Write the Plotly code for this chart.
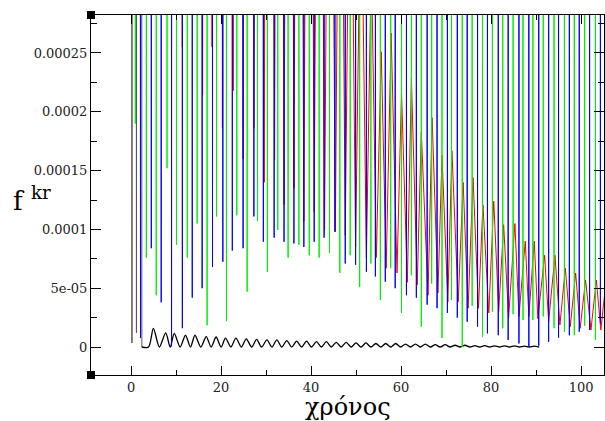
import plotly.graph_objects as go

# ---------------- data ----------------
# off-scale peak level for the spiky series (their maxima lie far above the view)
OFFSCALE = 0.02

# black series: initial off-scale dips, then small damped bumps near zero
black_t = [0.0, 0.2, 0.7, 1.2, 1.75, 2.4, 3.9, 4.96, 6.3, 7.7, 8.7, 9.6, 10.9, 12.1, 13.2, 14.2, 15.5,
           16.7, 17.8, 18.9, 20.0, 21.0, 22.2, 23.3, 24.5, 25.6, 26.8, 27.9, 29.0, 30.2, 31.3, 32.4,
           33.5, 34.6, 35.7, 36.8, 37.9, 39.0, 40.1, 41.2, 42.3, 43.4, 44.5, 45.6, 46.7, 47.8, 48.9,
           50.0, 51.1, 52.2, 53.3, 54.4, 55.5, 56.6, 57.7, 58.8, 59.9, 61.0, 62.1, 63.2, 64.3, 65.4,
           66.5, 67.6, 68.7, 69.8, 70.9, 72.0, 73.1, 74.2, 75.3, 76.4, 77.5, 78.6, 79.7, 80.8, 81.9,
           83.0, 84.1, 85.2, 86.3, 87.4, 88.5, 89.6, 90.7]
black_v = [0.02, 3.4e-6, 0.02, 1.2e-5, 0.02, 0.0, 0.0, 1.59e-5, 0.0, 1.2e-5, 0.0, 1.16e-5, 0.0, 1.0e-5, 0.0,
           1.0e-5, 0.0, 8.8e-6, 0.0, 8.5e-6, 0.0, 7.5e-6, 0.0, 7.5e-6, 0.0, 7.0e-6, 0.0, 6.5e-6, 0.0,
           6.0e-6, 0.0, 6.0e-6, 0.0, 5.5e-6, 0.0, 5.0e-6, 0.0, 5.0e-6, 0.0, 4.5e-6, 0.0, 4.5e-6, 0.0,
           4.0e-6, 0.0, 4.0e-6, 0.0, 3.5e-6, 0.0, 3.5e-6, 0.0, 3.0e-6, 0.0, 3.0e-6, 0.0, 3.0e-6, 0.0,
           2.5e-6, 0.0, 2.5e-6, 0.0, 2.5e-6, 0.0, 2.0e-6, 0.0, 2.0e-6, 0.0, 1.5e-6, 0.0, 1.5e-6, 0.0,
           1.2e-6, 0.0, 1.2e-6, 0.0, 1.0e-6, 0.0, 1.0e-6, 0.0, 1.0e-6, 0.0, 8e-7, 0.0, 8e-7, 0.0]

# red series: trough times/values and peak times/values
red_trough_t = [11.4, 13.6, 15.9, 18.0, 20.3, 22.7, 24.9, 27.3, 29.6, 31.9, 34.0, 36.2, 38.4, 40.7,
                43.0, 45.4, 47.6, 49.9, 52.3, 54.5, 56.7, 59.1, 61.4, 63.6, 66.0, 68.2, 70.4, 72.7,
                74.9, 77.2, 79.5, 81.7, 83.9, 86.2, 88.4, 90.4, 92.8, 95.3, 97.6, 99.8, 102.2, 104.4]
red_trough_v = [2.55e-4, 3.0e-4, 2.14e-4, 2.55e-4, 1.86e-4, 2.18e-4, 1.6e-4, 1.86e-4, 1.4e-4, 1.59e-4,
                1.21e-4, 1.35e-4, 1.07e-4, 1.15e-4, 1.0e-4, 9.8e-5, 9.5e-5, 8.5e-5, 7.6e-5, 7.6e-5,
                6.7e-5, 6.3e-5, 5.5e-5, 5.3e-5, 4.4e-5, 4.6e-5, 3.85e-5, 3.85e-5, 3.3e-5, 3.3e-5,
                2.9e-5, 3.0e-5, 2.5e-5, 2.6e-5, 2.6e-5, 2.4e-5, 2.15e-5, 1.87e-5, 1.73e-5, 1.59e-5,
                1.45e-5, 1.45e-5]
red_peak_t = [9.5, 12.5, 14.75, 16.95, 19.15, 21.5, 23.8, 26.1, 28.45, 30.75, 32.95, 35.1, 37.3, 39.55,
              41.85, 44.2, 46.5, 48.75, 51.1, 53.4, 55.6, 57.8, 60.1, 62.3, 64.5, 66.9, 69.1, 71.3,
              73.8, 76.0, 78.2, 80.6, 82.8, 85.3, 87.6, 89.6, 91.9, 94.2, 96.5, 98.8, 101.0, 103.4,
              105.3]
red_peak_v = [8e-3, 8e-3, 7e-3, 6e-3, 5e-3, 4e-3, 3.4e-3, 2.8e-3, 2.3e-3, 1.9e-3, 1.6e-3, 1.35e-3,
              1.15e-3, 1.0e-3, 8.8e-4, 7.6e-4, 6.4e-4, 5.2e-4, 4.2e-4, 3.3e-4, 2.51e-4, 2.67e-4,
              2.17e-4, 2.29e-4, 1.83e-4, 1.95e-4, 1.63e-4, 1.67e-4, 1.4e-4, 1.44e-4, 1.21e-4,
              1.24e-4, 1.04e-4, 1.05e-4, 9e-5, 9e-5, 7.8e-5, 7.8e-5, 6.7e-5, 6.3e-5, 5.7e-5,
              5.7e-5, 4.7e-5]

# green series: trough times/values (peaks off-scale)
green_trough_t = [0.96, 3.4, 5.6, 8.0, 10.1, 12.5, 14.7, 16.9, 19.0, 21.2, 23.5, 25.8, 28.1, 30.3,
                  32.6, 34.9, 37.3, 39.6, 41.8, 44.1, 46.4, 48.7, 50.8, 53.3, 55.4, 57.7, 60.1, 62.3,
                  64.5, 66.8, 69.1, 71.2, 73.6, 75.8, 78.1, 80.3, 82.6, 84.9, 87.1, 89.3, 91.6, 94.0,
                  96.3, 98.5, 100.8, 103.2]
green_trough_v = [1.9e-4, 7.6e-5, 4.4e-5, 1.52e-4, 8.7e-5, 7.6e-5, 1.05e-4, 1.85e-5, 1.11e-4, 2.2e-5,
                  1.12e-4, 4.7e-5, 1.07e-4, 6.4e-5, 9.95e-5, 7.6e-5, 8.7e-5, 7.8e-5, 7.6e-5, 8e-5,
                  6.3e-5, 7.8e-5, 5.1e-5, 7.1e-5, 4e-5, 6.7e-5, 2.9e-5, 6.1e-5, 1.73e-5, 5.4e-5,
                  7.7e-6, 4e-5, 0.0, 3.5e-5, 8.8e-6, 3e-5, 1.6e-5, 2.8e-5, 2.3e-5, 2.3e-5, 2.6e-5,
                  1.6e-5, 1.3e-5, 1e-5, 1.8e-5, 6e-6]

# blue series: trough times/values (peaks off-scale)
blue_trough_t = [2.1, 4.5, 6.7, 9.0, 11.4, 13.6, 15.8, 18.1, 20.4, 22.5, 24.9, 27.3, 29.4, 31.8, 34.0,
                 36.2, 38.4, 40.7, 42.9, 45.3, 47.6, 49.9, 52.3, 54.3, 56.5, 58.7, 61.2, 63.4, 65.8,
                 68.0, 70.3, 72.5, 74.7, 77.0, 79.2, 81.6, 83.8, 86.2, 88.4, 90.6, 92.8, 95.0, 97.4,
                 99.6, 101.9, 104.3]
blue_trough_v = [7.6e-6, 8.4e-5, 3.8e-5, 5e-7, 1.6e-5, 4.2e-5, 5e-5, 6.8e-5, 7.25e-5, 8.2e-5, 8.4e-5,
                 1.11e-4, 8.95e-5, 9.3e-5, 8.95e-5, 8.8e-5, 8.5e-5, 8.95e-5, 9.3e-5, 9.8e-5, 7.1e-5,
                 7e-5, 6.4e-5, 6e-5, 5.55e-5, 5e-5, 4.4e-5, 4.2e-5, 3.6e-5, 3.3e-5, 2.9e-5, 2.5e-5,
                 2.15e-5, 1.73e-5, 1.16e-5, 1e-5, 6e-6, 3e-6, 0.0, 1e-6, 4.5e-6, 8e-6, 1e-5, 1.3e-5,
                 1.45e-5, 2e-5]

x_tick_vals = [0, 20, 40, 60, 80, 100]
x_tick_text = ["0", "20", "40", "60", "80", "100"]
y_tick_vals = [0, 5e-5, 1e-4, 1.5e-4, 2e-4, 2.5e-4]
y_tick_text = ["0", "5e-05", "0.0001", "0.00015", "0.0002", "0.00025"]

SERIF = "DejaVu Serif"


# ---------------- helpers ----------------
def spiky(tt, tv, start_t=0.0, end_t=None):
    """Troughs joined through off-scale peaks placed between them."""
    xs, ys = [start_t], [OFFSCALE]
    for i, (t, v) in enumerate(zip(tt, tv)):
        xs.append(t)
        ys.append(v)
        if i + 1 < len(tt):
            xs.append(0.5 * (t + tt[i + 1]))
            ys.append(OFFSCALE)
    xs.append(tt[-1] + 1.1 if end_t is None else end_t)
    ys.append(OFFSCALE)
    return xs, ys


def merge(t1, v1, t2, v2):
    pts = sorted(list(zip(t1, v1)) + list(zip(t2, v2)))
    return [p[0] for p in pts], [p[1] for p in pts]


fig = go.Figure()

# initial off-scale part of the black curve (straight, thin), then the small bumps (smoothed)
fig.add_trace(go.Scatter(x=black_t[:6], y=black_v[:6], mode="lines",
                         line=dict(color="#555555", width=1), hoverinfo="skip"))
fig.add_trace(go.Scatter(x=black_t[5:], y=black_v[5:], mode="lines",
                         line=dict(color="#000000", width=1.3, shape="spline", smoothing=0.8),
                         hoverinfo="skip"))
rx, ry = merge(red_trough_t, red_trough_v, red_peak_t, red_peak_v)
fig.add_trace(go.Scatter(x=rx, y=ry, mode="lines",
                         line=dict(color="#ff0000", width=1), hoverinfo="skip"))
gx, gy = spiky(green_trough_t, green_trough_v)
fig.add_trace(go.Scatter(x=gx, y=gy, mode="lines",
                         line=dict(color="#00ee00", width=1), hoverinfo="skip"))
bx, by = spiky(blue_trough_t, blue_trough_v)
fig.add_trace(go.Scatter(x=bx, y=by, mode="lines",
                         line=dict(color="#0000ff", width=1), hoverinfo="skip"))

tickfont = dict(family=SERIF, size=13, color="#222222")

fig.update_layout(
    width=605, height=421,
    margin=dict(l=91, r=1, t=15, b=46),
    paper_bgcolor="white", plot_bgcolor="white",
    showlegend=False,
    font=dict(family=SERIF),
    xaxis=dict(range=[-8.9, 105.1], showgrid=False, zeroline=False,
               showline=True, linecolor="#000000", linewidth=1, mirror="ticks",
               ticks="inside", ticklen=9, tickwidth=1, tickcolor="#000000",
               tickmode="array", tickvals=x_tick_vals, ticktext=x_tick_text,
               tickfont=tickfont,
               minor=dict(tickmode="linear", tick0=0, dtick=10, ticks="inside",
                          ticklen=5, tickwidth=1, tickcolor="#000000")),
    yaxis=dict(range=[-2.38e-5, 2.823e-4], showgrid=False, zeroline=False,
               showline=True, linecolor="#000000", linewidth=1, mirror="ticks",
               ticks="inside", ticklen=10, tickwidth=1, tickcolor="#000000",
               tickmode="array", tickvals=y_tick_vals, ticktext=y_tick_text,
               tickfont=tickfont,
               minor=dict(tickmode="linear", tick0=0, dtick=2.5e-5, ticks="inside",
                          ticklen=6, tickwidth=1, tickcolor="#000000")),
    annotations=[
        dict(text="f <sup>kr</sup>", xref="paper", yref="paper", x=0, y=0.49,
             xanchor="right", yanchor="middle", xshift=-38, showarrow=False,
             font=dict(family=SERIF, size=26, color="#000000")),
        dict(text="χρόνος", xref="paper", yref="paper", x=0.5, y=-0.088,
             xanchor="center", yanchor="middle", showarrow=False,
             font=dict(family=SERIF, size=24, color="#000000")),
    ],
    shapes=[
        dict(type="rect", xref="paper", yref="paper", xsizemode="pixel", ysizemode="pixel",
             xanchor=0, yanchor=1, x0=-4, x1=4, y0=-4, y1=4,
             fillcolor="#000000", line=dict(width=0)),
        dict(type="rect", xref="paper", yref="paper", xsizemode="pixel", ysizemode="pixel",
             xanchor=0, yanchor=0, x0=-4, x1=4, y0=-4, y1=4,
             fillcolor="#000000", line=dict(width=0)),
    ],
)

fig.write_html("out.html")
